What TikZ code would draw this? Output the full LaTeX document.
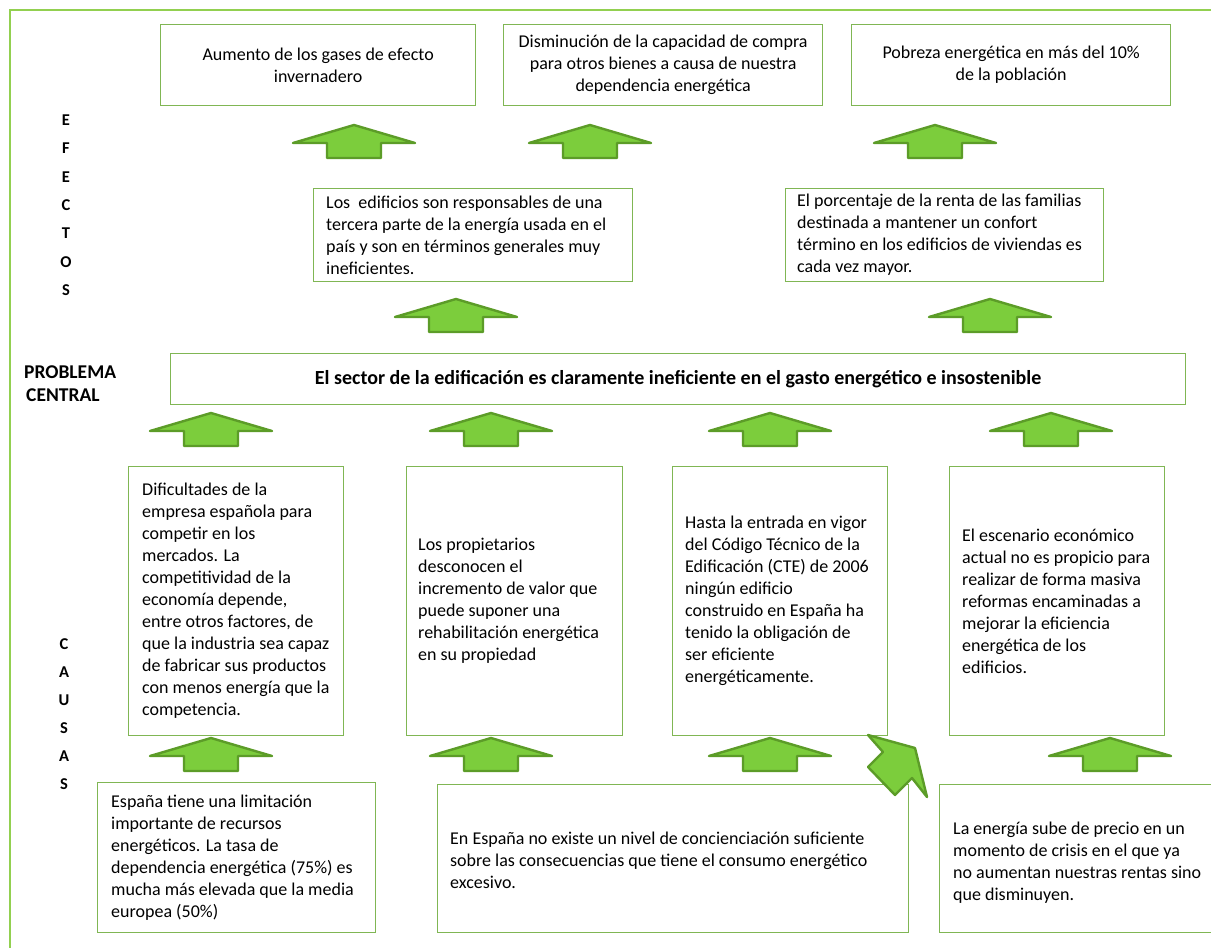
\documentclass[tikz,border=0pt]{standalone}
\usepackage{fontspec}
\setmainfont{Carlito}
\definecolor{framegreen}{RGB}{146,208,80}
\definecolor{boxgreen}{RGB}{128,182,84}
\definecolor{arrowfill}{RGB}{124,205,60}
\definecolor{arrowdraw}{RGB}{92,156,40}
\begin{document}
\begin{tikzpicture}[x=1pt,y=-1pt,
 boxnode/.style={draw=boxgreen,line width=1.3pt,rectangle,anchor=north west,inner sep=0pt},
 txt/.style={font=\fontsize{18}{22}\selectfont, inner sep=0pt, align=left, anchor=west},
 ctxt/.style={font=\fontsize{18}{22}\selectfont, inner sep=0pt, align=center},
 lab/.style={font=\fontsize{16.5}{20}\bfseries\selectfont, inner sep=0pt},
 greenarrow/.pic={\draw[fill=arrowfill,draw=arrowdraw,line width=2.4pt,line join=round] (0,0) -- (61,18) -- (27,18) -- (27,33) -- (-27,33) -- (-27,18) -- (-61,18) -- cycle;}
]
\clip (0,0) rectangle (1211,948);
\fill[white] (0,0) rectangle (1211,948);
% outer frame
\draw[framegreen, line width=2pt] (10,950) -- (10,10) -- (1215,10);

% left labels
\foreach \l [count=\i] in {E,F,E,C,T,O,S}
  \node[lab] (ef\i) at (66,{120+28.4*(\i-1)}) {\l};
\node[lab, font=\fontsize{19.5}{23}\bfseries\selectfont, anchor=west, align=left] (pc) at (24,384) {PROBLEMA\\\hspace*{2pt}CENTRAL};
\foreach \l [count=\i] in {C,A,U,S,A,S}
  \node[lab] (ca\i) at (64,{644+28*(\i-1)}) {\l};

% top effect boxes
\node[boxnode, minimum width=315pt, minimum height=81pt] (t1) at (160,24) {};
\node[ctxt] (t1t) at (t1.center) {Aumento de los gases de efecto\\invernadero};
\node[boxnode, minimum width=319pt, minimum height=81pt] (t2) at (503,24) {};
\node[ctxt] (t2t) at (t2.center) {Disminución de la capacidad de compra\\para otros bienes a causa de nuestra\\dependencia energética};
\node[boxnode, minimum width=319pt, minimum height=81pt] (t3) at (851,24) {};
\node[ctxt] (t3t) at (t3.center) {Pobreza energética en más del 10\%\\de la población};

% middle effect boxes
\node[boxnode, minimum width=319pt, minimum height=93pt] (m1) at (313,188) {};
\node[txt] (m1t) at ([xshift=13pt]m1.west) {Los\ \ edificios son responsables de una\\tercera parte de la energía usada en el\\país y son en términos generales muy\\ineficientes.};
\node[boxnode, minimum width=318pt, minimum height=93pt] (m2) at (785,188) {};
\node[txt] (m2t) at ([xshift=12pt]m2.west) {El porcentaje de la renta de las familias\\destinada a mantener un confort\\término en los edificios de viviendas es\\cada vez mayor.};

% central problem
\node[boxnode, minimum width=1015pt, minimum height=51pt] (c) at (170,353) {};
\node[font=\fontsize{20}{24}\bfseries\selectfont, inner sep=0pt] (ct) at (c.center) {El sector de la edificación es claramente ineficiente en el gasto energético e insostenible};

% cause boxes
\node[boxnode, minimum width=215pt, minimum height=269pt] (k1) at (128,466) {};
\node[txt] (k1t) at ([xshift=14pt]k1.west) {Dificultades de la\\empresa española para\\competir en los\\mercados. La\\competitividad de la\\economía depende,\\entre otros factores, de\\que la industria sea capaz\\de fabricar sus productos\\con menos energía que la\\competencia.};
\node[boxnode, minimum width=216pt, minimum height=269pt] (k2) at (406,466) {};
\node[txt] (k2t) at ([xshift=12pt]k2.west) {Los propietarios\\desconocen el\\incremento de valor que\\puede suponer una\\rehabilitación energética\\en su propiedad};
\node[boxnode, minimum width=215pt, minimum height=269pt] (k3) at (672,466) {};
\node[txt] (k3t) at ([xshift=13pt]k3.west) {Hasta la entrada en vigor\\del Código Técnico de la\\Edificación (CTE) de 2006\\ningún edificio\\construido en España ha\\tenido la obligación de\\ser eficiente\\energéticamente.};
\node[boxnode, minimum width=215pt, minimum height=269pt] (k4) at (949,466) {};
\node[txt] (k4t) at ([xshift=13pt]k4.west) {El escenario económico\\actual no es propicio para\\realizar de forma masiva\\reformas encaminadas a\\mejorar la eficiencia\\energética de los\\edificios.};

% bottom cause boxes
\node[boxnode, minimum width=278pt, minimum height=150pt] (b1) at (97,782) {};
\node[txt] (b1t) at ([xshift=14pt]b1.west) {España tiene una limitación\\importante de recursos\\energéticos. La tasa de\\dependencia energética (75\%) es\\mucha más elevada que la media\\europea (50\%)};
\node[boxnode, minimum width=471pt, minimum height=148pt] (b2) at (437,784) {};
\node[txt] (b2t) at ([xshift=13pt,yshift=-2pt]b2.west) {En España no existe un nivel de concienciación suficiente\\sobre las consecuencias que tiene el consumo energético\\excesivo.};
\node[boxnode, minimum width=290pt, minimum height=148pt] (b3) at (939,784) {};
\node[txt] (b3t) at ([xshift=14pt,yshift=-4pt]b3.west) {La energía sube de precio en un\\momento de crisis en el que ya\\no aumentan nuestras rentas sino\\que disminuyen.};

% arrows
\foreach \x in {354,590,935} \pic at (\x,125) {greenarrow};
\foreach \x in {456,990} \pic at (\x,299) {greenarrow};
\foreach \x in {211,491,770,1051} \pic at (\x,413) {greenarrow};
\foreach \x in {211,491,770,1110} \pic at (\x,738) {greenarrow};
\draw[fill=arrowfill,draw=arrowdraw,line width=2.4pt,line join=round]
  (868,735) -- (915,748) -- (927,797) -- (912,778) -- (895,795) -- (868,767) -- (883,752) -- cycle;
\end{tikzpicture}
\end{document}
